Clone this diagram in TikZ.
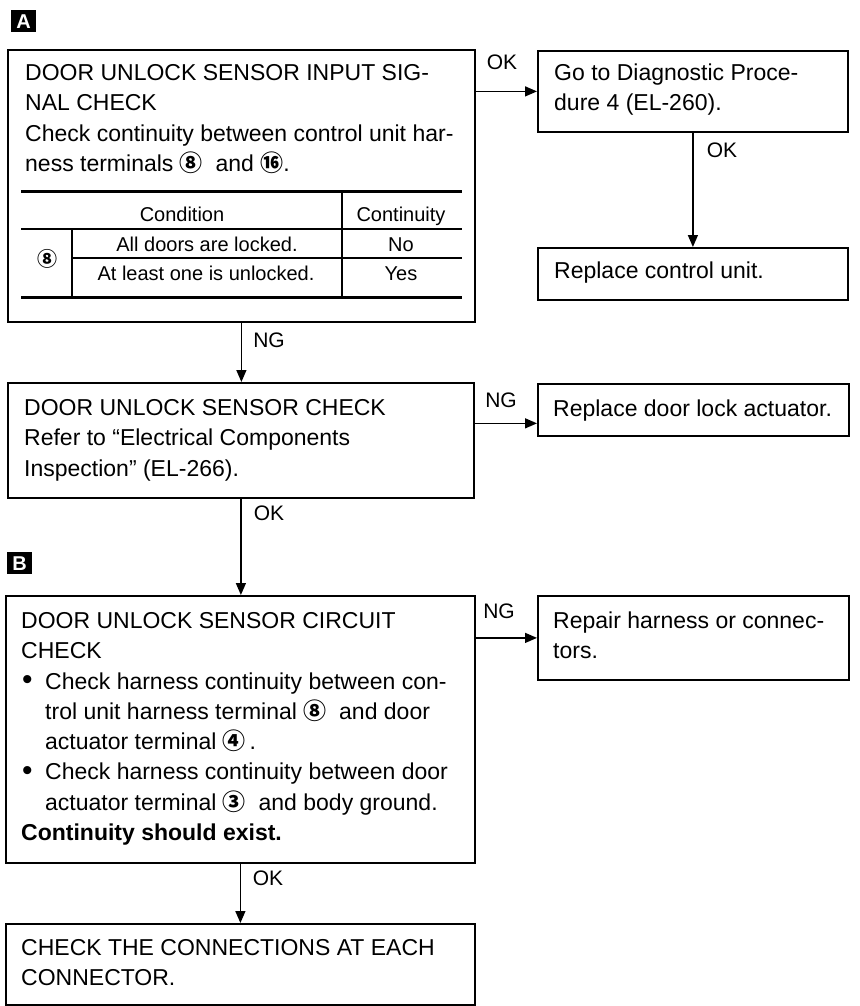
\documentclass[tikz,border=0pt]{standalone}
\usepackage{fontspec}
\setmainfont{Liberation Sans}
\newfontfamily\circfont{Noto Sans CJK SC}
\usetikzlibrary{arrows.meta,calc}
\newcommand{\cnum}[1]{{\circfont\bfseries #1}}
\newcommand{\bulletmark}{\makebox[24pt][l]{\hspace*{1pt}\raisebox{-0.5pt}{\scalebox{1.3}{•}}}}

\begin{document}
\begin{tikzpicture}[x=1pt,y=-1pt,
  box/.style={draw, line width=1.8pt, rectangle, inner sep=0pt, anchor=north west},
  txt/.style={anchor=north west, inner sep=0pt, align=left, font=\fontsize{23}{30.3}\selectfont},
  cell/.style={anchor=base, inner sep=0pt, font=\fontsize{20}{24}\selectfont},
  lbl/.style={inner sep=0pt, font=\fontsize{21}{25}\selectfont},
  arr/.style={line width=1.4pt, -{Triangle[length=12pt,width=10pt]}},
  marker/.style={fill=black, text=white, inner sep=0pt, anchor=north west,
    minimum width=25pt, minimum height=22pt, font=\bfseries\fontsize{20}{20}\selectfont},
  thickrule/.style={line width=3pt},
  rule/.style={line width=1.6pt},
]
\useasboundingbox (0,0) rectangle (859,1006);

% section markers
\node[marker] (mA) at (11,10) {A};
\node[marker] (mB) at (7,552) {B};

% boxes
\node[box, minimum width=467pt, minimum height=272pt] (b1) at (7,49) {};
\node[box, minimum width=310pt, minimum height=81pt] (go) at (537,50) {};
\node[box, minimum width=310pt, minimum height=52pt] (rcu) at (537,247) {};
\node[box, minimum width=466pt, minimum height=115pt] (b2) at (7,382) {};
\node[box, minimum width=311pt, minimum height=52pt] (rda) at (537,383) {};
\node[box, minimum width=469pt, minimum height=267pt] (b3) at (5,595) {};
\node[box, minimum width=311pt, minimum height=84pt] (rep) at (537,595) {};
\node[box, minimum width=469pt, minimum height=81pt] (b4) at (5,923) {};

% box texts
\node[txt] (t1) at (25,59) {\strut DOOR UNLOCK SENSOR INPUT SIG-\\NAL CHECK\\Check continuity between control unit har-\\ness terminals \cnum{⑧}\ \ and \cnum{⑯}.};
\node[txt] (tgo) at (554,59) {\strut Go to Diagnostic Proce-\\dure 4 (EL-260).};
\node[txt] (trcu) at (554,257) {\strut Replace control unit.};
\node[txt] (t2) at (24,394) {\strut DOOR UNLOCK SENSOR CHECK\\Refer to “Electrical Components\\Inspection” (EL-266).};
\node[txt] (trda) at (553,395) {\strut Replace door lock actuator.};
\node[txt] (t3) at (21,607) {\strut DOOR UNLOCK SENSOR CIRCUIT\\CHECK\\
  \bulletmark Check harness continuity between con-\\
  \hspace*{24pt}trol unit harness terminal \cnum{⑧}\ \ and door\\
  \hspace*{24pt}actuator terminal \cnum{④}\,.\\
  \bulletmark Check harness continuity between door\\
  \hspace*{24pt}actuator terminal \cnum{③}\ \ and body ground.\\
  \textbf{Continuity should exist.}};
\node[txt] (trep) at (553,607) {\strut Repair harness or connec-\\tors.};
\node[txt] (t4) at (21,934) {\strut CHECK THE CONNECTIONS AT EACH\\CONNECTOR.};

% condition table
\draw[thickrule] (21,191) -- (462,191);
\draw[rule] (21,229) -- (462,229);
\draw[line width=1.1pt] (72,258) -- (462,258);
\draw[thickrule] (21,297) -- (462,297);
\draw[rule] (342,191) -- (342,297);
\draw[rule] (72,229) -- (72,297);
\node[cell] (hc) at (182,221) {Condition};
\node[cell] (hv) at (401,221) {Continuity};
\node[cell] (r1c) at (207,251) {All doors are locked.};
\node[cell] (r1v) at (401,251) {No};
\node[cell] (r2c) at (206,280) {At least one is unlocked.};
\node[cell] (r2v) at (401,280) {Yes};
\node[inner sep=0pt, font=\fontsize{20}{20}\selectfont] (term) at (47,259) {\cnum{⑧}};

% connectors
\draw[arr] (b1.east |- go.west) -- (go.west);
\node[lbl] (l1) at (502,62) {OK};
\draw[arr] (go.south) -- (go.south |- rcu.north);
\node[lbl] (l2) at (722,150) {OK};
\draw[arr] (b1.south) -- (b1.south |- b2.north);
\node[lbl] (l3) at (269,340) {NG};
\coordinate (rdain) at ($(rda.north west)!0.75!(rda.south west)$);
\draw[arr] (b2.east |- rdain) -- (rdain);
\node[lbl] (l4) at (501,400) {NG};
\draw[arr] (b2.south) -- (b2.south |- b3.north);
\node[lbl] (l5) at (269,513) {OK};
\draw[arr] (b3.east |- rep.west) -- (rep.west);
\node[lbl] (l6) at (499,611) {NG};
\draw[arr] (b3.south) -- (b3.south |- b4.north);
\node[lbl] (l7) at (268,878) {OK};
\end{tikzpicture}
\end{document}
